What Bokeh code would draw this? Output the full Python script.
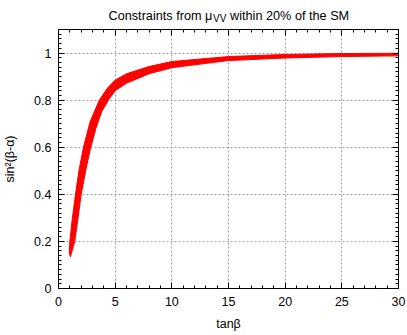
from bokeh.plotting import figure
from bokeh.layouts import column
from bokeh.models import Range1d, FixedTicker, LinearAxis, CustomJSTickFormatter, ColumnDataSource, CustomLabelingPolicy
from bokeh.core.properties import value
from bokeh.embed import file_html
from bokeh.resources import INLINE

# ---- data (allowed band in the tanβ – sin²(β-α) plane) ----
upper_tanb = [0.95, 1.0, 1.2, 1.5, 1.8, 2.2, 2.8, 3.6, 4.3, 5.0, 6.0, 8.0, 10.0, 15.0, 20.0, 25.0, 30.0]
upper_sin2 = [0.15, 0.20, 0.29, 0.40, 0.50, 0.60, 0.71, 0.80, 0.85, 0.885, 0.912, 0.943, 0.964, 0.985, 0.994, 0.998, 0.999]
lower_tanb = [1.05, 1.2, 1.43, 1.7, 2.0, 2.4, 2.8, 3.3, 3.8, 4.4, 5.0, 6.0, 8.0, 10.0, 15.0, 20.0, 25.0, 30.0]
lower_sin2 = [0.135, 0.16, 0.20, 0.29, 0.40, 0.50, 0.59, 0.68, 0.75, 0.80, 0.84, 0.872, 0.912, 0.938, 0.968, 0.979, 0.985, 0.988]

x_ticks = [0, 5, 10, 15, 20, 25, 30]
y_ticks = [0, 0.2, 0.4, 0.6, 0.8, 1.0]
x_grid = [5, 10, 15, 20, 25]
y_grid = [0.2, 0.4, 0.6, 0.8, 1.0]
x_minor = list(range(0, 31))
y_minor = [round(0.02 * i, 2) for i in range(0, 56)]

title_parts = ["Constraints from μ", "VV", "within 20% of the SM"]

FONT = "Liberation Sans"
W = 405
TH = 24      # title strip height
MH = 309     # main plot height

# ---------------- title strip (text with a subscript) ----------------
# its frame is aligned with the main plot's frame, so it shares the tanβ scale
t = figure(width=W, height=TH, x_range=Range1d(0, 30), y_range=Range1d(0, TH),
           output_backend="svg", toolbar_location=None, title=None,
           x_axis_type=None, y_axis_type=None,
           min_border_left=0, min_border_right=0, min_border_top=0, min_border_bottom=0)
t.outline_line_color = None
t.xgrid.visible = False
t.ygrid.visible = False
t.background_fill_color = "white"
t.border_fill_color = "white"
tsrc = ColumnDataSource(dict(x=[15, 15, 15], y=[9, 6, 9], text=title_parts,
                             dx=[-120, -15.5, 1.5], size=["12.7px", "10px", "12.7px"]))
t.text(x="x", y="y", text="text", source=tsrc, x_offset="dx", text_font=value(FONT),
       text_font_size="size", text_color="black",
       text_baseline=value("alphabetic"), text_align=value("left"))

# ---------------- main plot ----------------
p = figure(width=W, height=MH, x_range=Range1d(0, 30), y_range=Range1d(0, 1.1),
           output_backend="svg", toolbar_location=None, title=None,
           min_border_left=58, min_border_right=7, min_border_top=5, min_border_bottom=45)
p.background_fill_color = "white"
p.border_fill_color = "white"
p.outline_line_color = "black"
p.outline_line_width = 1

xs = list(upper_tanb) + list(reversed(lower_tanb))
ys = list(upper_sin2) + list(reversed(lower_sin2))
src = ColumnDataSource(dict(x=xs, y=ys))
p.patch("x", "y", source=src, fill_color="#ff0000", line_color="#ff0000", line_width=1)

fmt = CustomJSTickFormatter(code="return String(Math.round(tick*10)/10);")
no_labels = CustomLabelingPolicy(code="""
for (let i = 0; i < indices.size; i++) { indices.set(i, false) }
return indices
""")

def style_axis(ax, ticks, minor, labels=True):
    ax.ticker = FixedTicker(ticks=ticks, minor_ticks=minor)
    ax.major_tick_in = 6
    ax.major_tick_out = 0
    ax.minor_tick_in = 3
    ax.minor_tick_out = 0
    ax.major_tick_line_color = "black"
    ax.minor_tick_line_color = "black"
    ax.axis_line_color = "black"
    if labels:
        ax.major_label_text_font = FONT
        ax.major_label_text_font_size = "12.5px"
        ax.major_label_text_color = "black"
        ax.axis_label_text_font = FONT
        ax.axis_label_text_font_size = "12.5px"
        ax.axis_label_text_font_style = "normal"
        ax.axis_label_text_color = "black"
    else:
        ax.major_label_policy = no_labels
        ax.major_label_text_font_size = "0px"
        ax.major_label_standoff = 0
        ax.axis_label = None

xa = p.xaxis[0]
style_axis(xa, x_ticks, x_minor)
xa.formatter = fmt
xa.major_label_standoff = 8
xa.axis_label = "tanβ"
xa.axis_label_standoff = 8

ya = p.yaxis[0]
style_axis(ya, y_ticks, y_minor)
ya.formatter = fmt
ya.major_label_standoff = 7
ya.axis_label = "sin²(β-α)"
ya.axis_label_standoff = 14

xa2 = LinearAxis()
style_axis(xa2, x_ticks, x_minor, labels=False)
p.add_layout(xa2, "above")
ya2 = LinearAxis()
style_axis(ya2, y_ticks, y_minor, labels=False)
p.add_layout(ya2, "right")

p.xgrid.ticker = FixedTicker(ticks=x_grid)
p.ygrid.ticker = FixedTicker(ticks=y_grid)
for g in (p.xgrid, p.ygrid):
    g.grid_line_color = "#a0a0a0"
    g.grid_line_dash = "2 2"
    g.grid_line_width = 1

layout = column(t, p, spacing=0)
open("out.html", "w").write(file_html(layout, INLINE))
